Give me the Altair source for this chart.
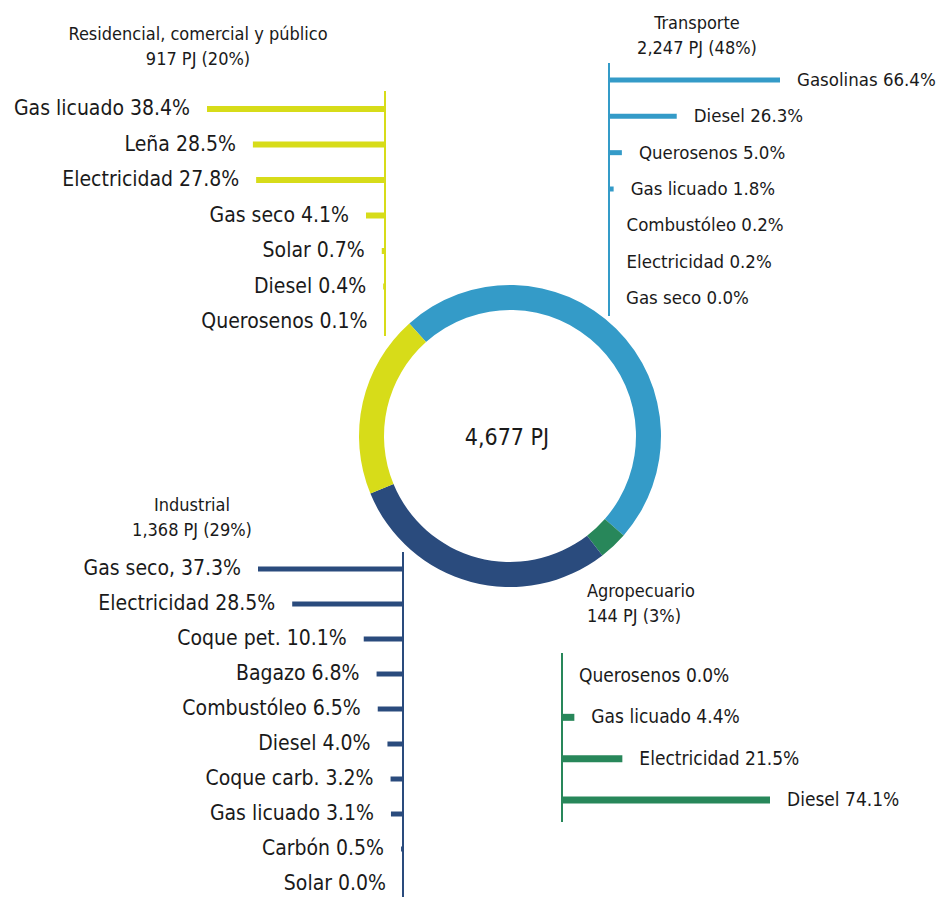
import math
import altair as alt
import pandas as pd

# ---------------- data ----------------
sectors = ["Transporte", "Agropecuario", "Industrial", "Residencial, comercial y público"]
sector_pj = [2247, 144, 1368, 917]
sector_colors = ["#349bc8", "#28875a", "#2a4b7d", "#d7dc19"]
total_label = "4,677 PJ"

res_names = ["Gas licuado", "Leña", "Electricidad", "Gas seco", "Solar", "Diesel", "Querosenos"]
res_vals = [38.4, 28.5, 27.8, 4.1, 0.7, 0.4, 0.1]

tra_names = ["Gasolinas", "Diesel", "Querosenos", "Gas licuado", "Combustóleo", "Electricidad", "Gas seco"]
tra_vals = [66.4, 26.3, 5.0, 1.8, 0.2, 0.2, 0.0]

ind_names = ["Gas seco,", "Electricidad", "Coque pet.", "Bagazo", "Combustóleo", "Diesel",
             "Coque carb.", "Gas licuado", "Carbón", "Solar"]
ind_vals = [37.3, 28.5, 10.1, 6.8, 6.5, 4.0, 3.2, 3.1, 0.5, 0.0]

agr_names = ["Querosenos", "Gas licuado", "Electricidad", "Diesel"]
agr_vals = [0.0, 4.4, 21.5, 74.1]

titles = {
    "res": "Residencial, comercial y público\n917 PJ (20%)",
    "tra": "Transporte\n2,247 PJ (48%)",
    "ind": "Industrial\n1,368 PJ (29%)",
    "agr": "Agropecuario\n144 PJ (3%)",
}

# ---------------- layout ----------------
O = 8  # page margin
FONT = "DejaVu Sans Condensed"
TXT = "#1a1a1a"


def panel(names, vals, color, x_line, x_end, y_first, y_last, line_top, line_bot,
          side, fsize, thick):
    labels = [f"{n} {v:.1f}%" for n, v in zip(names, vals)]
    df = pd.DataFrame({"cat": names, "val": vals, "label": labels})
    xs = alt.Scale(domain=[0, max(vals)], range=[x_line - O, x_end - O], nice=False)
    ys = alt.Scale(type="point", domain=names, range=[y_first - O, y_last - O], padding=0)
    base = alt.Chart(df)
    bars = base.mark_rule(strokeWidth=thick, color=color, strokeCap="butt").encode(
        x=alt.X("val:Q", scale=xs, axis=None),
        x2=alt.datum(0),
        y=alt.Y("cat:N", scale=ys, axis=None),
    )
    txt = base.mark_text(
        align="right" if side == "left" else "left",
        baseline="middle",
        dx=-17 if side == "left" else 17,
        font=FONT, fontSize=fsize, color=TXT,
    ).encode(
        x=alt.X("val:Q", scale=xs, axis=None),
        y=alt.Y("cat:N", scale=ys, axis=None),
        text="label:N",
    )
    vline = alt.Chart(pd.DataFrame({"a": [0]})).mark_rule(strokeWidth=2, color=color).encode(
        x=alt.value(x_line - O), y=alt.value(line_top - O), y2=alt.value(line_bot - O)
    )
    return [vline, bars, txt]


def title(text, x, y, align="center", fsize=18):
    return alt.Chart(pd.DataFrame({"t": [text]})).mark_text(
        align=align, baseline="alphabetic", lineBreak="\n", lineHeight=25,
        font=FONT, fontSize=fsize, color=TXT,
    ).encode(x=alt.value(x - O), y=alt.value(y - O), text="t:N")


layers = []
layers += panel(res_names, res_vals, "#d7dc19", 385, 207, 109, 322, 91, 336, "left", 21, 6)
layers += panel(tra_names, tra_vals, "#349bc8", 609, 780, 80, 298, 63, 316, "right", 18.5, 5)
layers += panel(ind_names, ind_vals, "#2a4b7d", 403, 258, 569, 884, 552, 897, "left", 21, 5)
layers += panel(agr_names, agr_vals, "#28875a", 562, 770, 676, 800, 653, 822, "right", 19, 7)

# donut
t0 = 2 * math.pi - math.radians(41.8)
donut_df = pd.DataFrame({"sector": sectors, "pj": sector_pj, "idx": list(range(len(sectors)))})
donut = alt.Chart(donut_df).mark_arc(innerRadius=126, outerRadius=151).encode(
    theta=alt.Theta("pj:Q", stack=True, scale=alt.Scale(range=[t0, t0 + 2 * math.pi])),
    color=alt.Color("sector:N", scale=alt.Scale(domain=sectors, range=sector_colors), legend=None),
    order=alt.Order("idx:Q"),
    x=alt.value(510 - O), y=alt.value(436 - O),
)
center = alt.Chart(pd.DataFrame({"t": [total_label]})).mark_text(
    align="center", baseline="alphabetic", font=FONT, fontSize=23, color=TXT
).encode(x=alt.value(507 - O), y=alt.value(445 - O), text="t:N")
layers += [donut, center]

layers += [
    title(titles["res"], 198, 40),
    title(titles["tra"], 697, 29),
    title(titles["ind"], 192, 511),
    title(titles["agr"], 587, 597, align="left"),
]

chart = alt.layer(*layers).resolve_scale(
    x="independent", y="independent", theta="independent", color="independent"
).properties(width=928, height=891, padding=0, autosize="none").configure_view(stroke=None)

chart.save("out.html", embed_options={"renderer": "svg", "actions": False})
